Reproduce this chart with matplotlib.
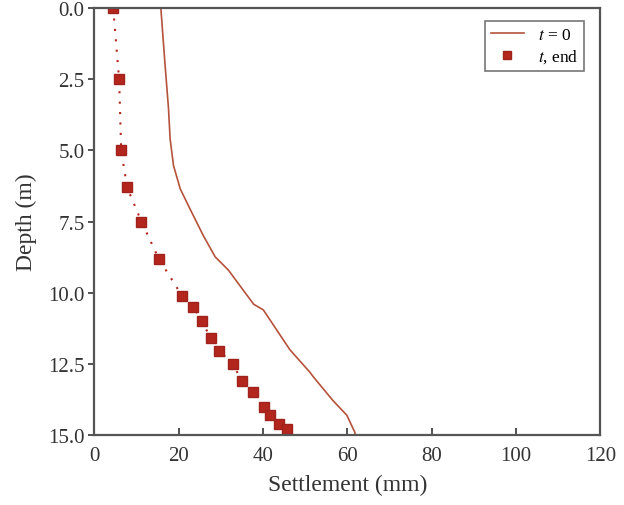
import matplotlib
matplotlib.use("Agg")
import matplotlib.pyplot as plt

# t = 0 settlement profile (mm vs depth m)
t0_settle = [15.8, 16.8, 17.6, 18.0, 18.8, 20.4, 22.7, 25.9, 28.7, 31.8, 37.8,
             40.1, 46.4, 51.2, 52.0, 56.7, 59.9, 61.8, 61.9]
t0_depth = [0.0, 2.0, 3.5, 4.6, 5.53, 6.35, 7.05, 8.0, 8.74, 9.2, 10.4,
            10.6, 12.0, 12.8, 12.96, 13.8, 14.3, 14.9, 15.0]

# t end settlement points
end_settle = [4.5, 5.9, 6.4, 7.8, 11.2, 15.3, 20.8, 23.5, 25.6, 27.6, 29.7,
              32.9, 35.0, 37.6, 40.3, 41.7, 43.9, 45.8]
end_depth = [0.0, 2.5, 5.0, 6.3, 7.5, 8.8, 10.1, 10.5, 11.0, 11.6, 12.05,
             12.5, 13.1, 13.5, 14.0, 14.3, 14.6, 14.8]

plt.rcParams["font.family"] = ["Liberation Serif", "DejaVu Serif"]
plt.rcParams["mathtext.fontset"] = "stix"

fig = plt.figure(figsize=(6.24, 5.06), dpi=100)
ax = fig.add_axes([0.151, 0.138, 0.811, 0.844])

ax.plot(t0_settle, t0_depth, color="#b5523b", lw=1.2, label="$t$ = 0")
ax.plot(end_settle, end_depth, color="#b3261e", ls=(0, (1, 4)), lw=1.5)
ax.plot(end_settle, end_depth, ls="none", marker="s", ms=7,
        color="#b3261e", mec="#a0221c", label="$t$, end")

ax.set_xlim(0, 120)
ax.set_ylim(15, 0)
ax.set_xticks([0, 20, 40, 60, 80, 100, 120])
ax.set_yticks([0, 2.5, 5, 7.5, 10, 12.5, 15])
ax.set_yticklabels(["0.0", "2.5", "5.0", "7.5", "10.0", "12.5", "15.0"])
ax.tick_params(axis="x", direction="in", length=5, width=1.2, labelsize=15,
               colors="#333333", pad=8)
ax.tick_params(axis="y", direction="out", length=4, width=1.2, labelsize=15,
               colors="#333333", pad=3)
for s in ax.spines.values():
    s.set_linewidth(1.6)
    s.set_color("#555555")

ax.set_xlabel("Settlement (mm)", fontsize=17, color="#333333", labelpad=6)
ax.set_ylabel("Depth (m)", fontsize=17, color="#333333", labelpad=8)

leg = ax.legend(loc="upper right", fontsize=12.5, fancybox=False,
                edgecolor="#555555", handlelength=1.9, borderpad=0.35,
                labelspacing=0.25, markerscale=0.8,
                bbox_to_anchor=(0.985, 0.99))
leg.get_frame().set_linewidth(1.2)

plt.savefig("out.png", dpi=100)
plt.close(fig)
